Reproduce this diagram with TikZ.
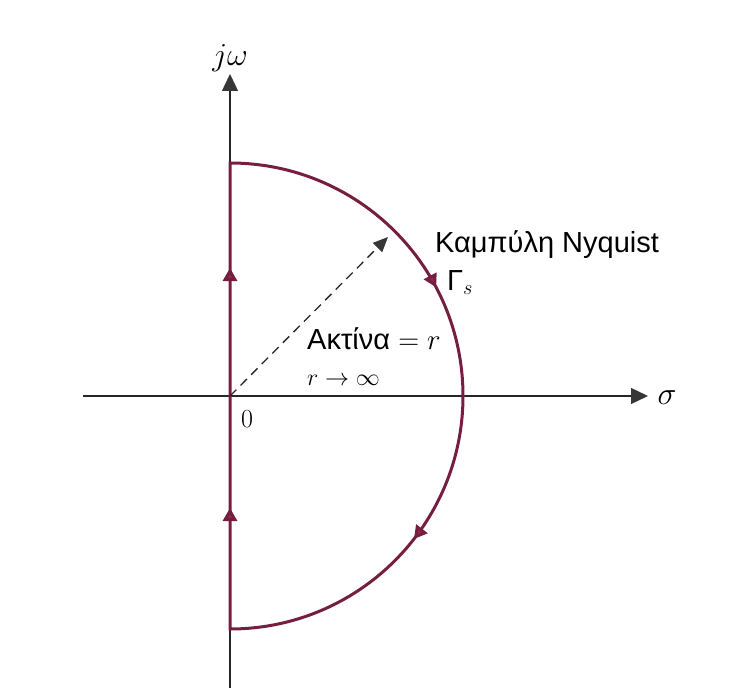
\RequirePackage{fix-cm}
\documentclass[tikz,border=0pt]{standalone}
\usepackage{fontspec}
\newfontfamily\grfont{Liberation Sans}
\usetikzlibrary{arrows.meta,decorations.markings}
\definecolor{nyq}{RGB}{118,30,64}
\definecolor{nyqtip}{RGB}{150,38,82}
\definecolor{axisgray}{RGB}{55,55,55}

\begin{document}
\begin{tikzpicture}[
  x=1pt,y=1pt,
  >=Stealth,
  axisline/.style={draw=black!85,line width=1.4pt},
  axistip/.style={-{Triangle[length=17pt,width=16pt,fill=axisgray,color=axisgray]}},
  contour/.style={draw=nyq,line width=3pt},
  flowmarks/.style={postaction={decorate},decoration={markings,
    mark=at position 121pt with {\arrow{Triangle[length=13pt,width=14pt,fill=nyqtip]}},
    mark=at position 361pt with {\arrow{Triangle[length=13pt,width=14pt,fill=nyqtip]}},
    mark=at position 719pt with {\arrow{Triangle[length=13pt,width=14pt,fill=nyqtip]}},
    mark=at position 986pt with {\arrow{Triangle[length=13pt,width=14pt,fill=nyqtip]}}}},
  raydash/.style={draw=black!85,line width=1.3pt,dash pattern=on 9pt off 6pt,
    -{Triangle[length=15pt,width=13pt,fill=axisgray,color=axisgray]}},
  lbl/.style={font=\grfont\fontsize{29}{34}\selectfont,inner sep=0pt},
  mathlbl/.style={font=\fontsize{32}{36}\selectfont,inner sep=0pt}
]
\useasboundingbox (-230,-303) rectangle (514,396);

%% axes
\coordinate (O)      at (0,0);
\coordinate (ybot)   at (0,-292);
\coordinate (ytop)   at (0,322);
\coordinate (xleft)  at (-147,0);
\coordinate (xright) at (418,0);
\draw[axisline,axistip] (ybot) -- (ytop);
\draw[axisline,axistip] (xleft) -- (xright);

\node[mathlbl] (jw)    at (0,338) {$j\omega$};
\node[mathlbl] (sigma) at (437,-2) {$\sigma$};
\node[mathlbl,font=\fontsize{26}{30}\selectfont] (zero) at (17,-23) {0};

%% Nyquist contour
\coordinate (cbot) at (0,-233);
\coordinate (ctop) at (0,233);
\draw[contour,flowmarks] (cbot) -- (ctop)
  arc[start angle=90,end angle=-90,radius=233] -- cycle;

%% radius
\coordinate (rtip) at (158,159);
\draw[raydash] (O) -- (rtip);

%% labels
\node[lbl,anchor=base west] (curve) at (205,143) {Καμπύλη Nyquist};
\node[lbl,anchor=base west] (gam) at (217,106) {Γ$_s$};
\node[lbl,anchor=base west] (rad) at (77,47) {Ακτίνα $=r$};
\node[mathlbl,font=\fontsize{24}{28}\selectfont,anchor=base west] (rinf) at (77,11) {$r\to\infty$};

\end{tikzpicture}
\end{document}
